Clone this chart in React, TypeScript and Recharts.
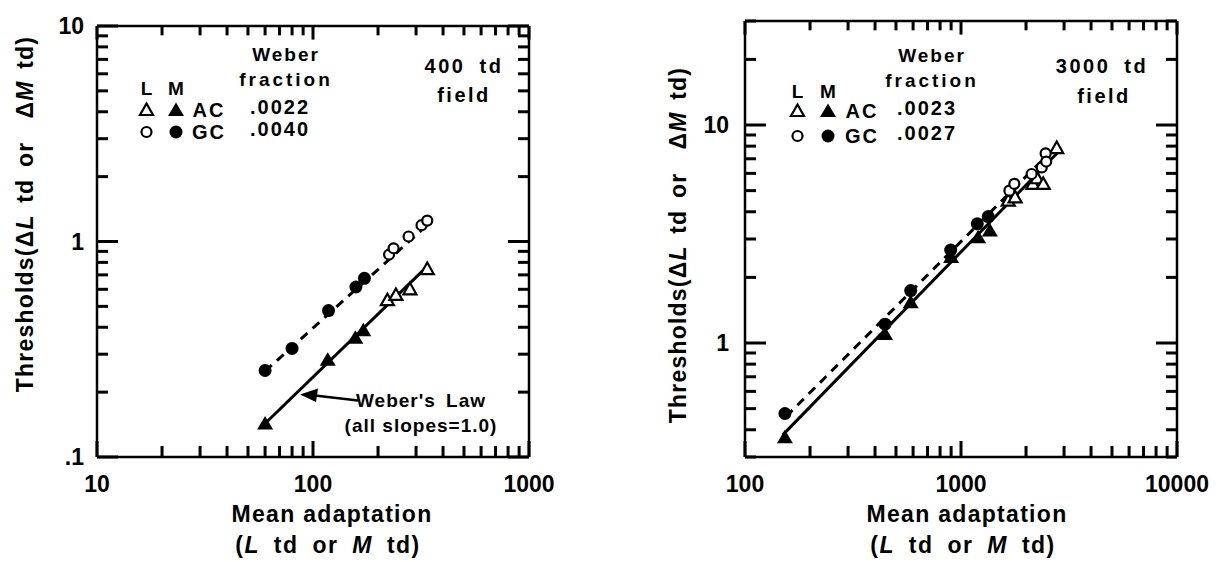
import React from 'react';
import { ScatterChart, Scatter, XAxis, YAxis, ReferenceLine } from 'recharts';

const FONT = '"Liberation Sans", Arial, Helvetica, sans-serif';

// ---------- Left panel: 400 td field ----------
const leftXTicks = [10, 20, 30, 40, 50, 60, 70, 80, 90, 100, 200, 300, 400, 500, 600, 700, 800, 900, 1000];
const leftYTicks = [0.1, 0.2, 0.3, 0.4, 0.5, 0.6, 0.7, 0.8, 0.9, 1, 2, 3, 4, 5, 6, 7, 8, 9, 10];
const leftXMajor = [10, 100, 1000];
const leftXLabels = ['10', '100', '1000'];
const leftYMajor = [0.1, 1, 10];
const leftYLabels = ['.1', '1', '10'];

const leftGcMX = [60, 80, 118, 158, 173];
const leftGcMY = [0.252, 0.319, 0.478, 0.615, 0.675];
const leftGcLX = [225, 236, 277, 318, 338];
const leftGcLY = [0.87, 0.93, 1.055, 1.19, 1.25];
const leftAcMX = [60, 117, 157, 171];
const leftAcMY = [0.143, 0.283, 0.358, 0.387];
const leftAcLX = [221, 242, 281, 338];
const leftAcLY = [0.534, 0.565, 0.6, 0.745];
const leftGcFitX = [60, 350];
const leftGcFitY = [0.25, 1.23];
const leftAcFitX = [60, 338];
const leftAcFitY = [0.143, 0.767];

// ---------- Right panel: 3000 td field ----------
const rightXTicks = [100, 200, 300, 400, 500, 600, 700, 800, 900, 1000, 2000, 3000, 4000, 5000, 6000, 7000, 8000, 9000, 10000];
const rightYTicks = [0.3, 0.4, 0.5, 0.6, 0.7, 0.8, 0.9, 1, 2, 3, 4, 5, 6, 7, 8, 9, 10, 20, 30];
const rightXMajor = [100, 1000, 10000];
const rightXLabels = ['100', '1000', '10000'];
const rightYMajor = [1, 10];
const rightYLabels = ['1', '10'];

const rightGcMX = [153, 445, 585, 896, 1190, 1337];
const rightGcMY = [0.475, 1.22, 1.74, 2.67, 3.52, 3.8];
const rightGcLX = [1675, 1766, 2123, 2365, 2465, 2480];
const rightGcLY = [5.0, 5.37, 5.96, 6.39, 7.41, 6.8];
const rightAcMX = [153, 445, 585, 900, 1200, 1361];
const rightAcMY = [0.37, 1.1, 1.54, 2.48, 3.06, 3.28];
const rightAcLX = [1655, 1780, 2150, 2250, 2404, 2774];
const rightAcLY = [4.5, 4.66, 5.37, 5.7, 5.37, 7.84];
const rightGcFitX = [155, 2520];
const rightGcFitY = [0.46, 7.3];
const rightAcFitX = [150, 2850];
const rightAcFitY = [0.38, 7.6];

const pts = (xs: number[], ys: number[]) => xs.map((x, i) => ({ x, y: ys[i] }));

// ---------- marks ----------
const FilledCircle = (p: any) => <circle cx={p.cx} cy={p.cy} r={6.5} fill="#000" />;
const OpenCircle = (p: any) => <circle cx={p.cx} cy={p.cy} r={5} fill="#fff" stroke="#000" strokeWidth={2.2} />;
const FilledTri = (p: any) => (
  <polygon points={`${p.cx},${p.cy - 7.5} ${p.cx - 8},${p.cy + 6} ${p.cx + 8},${p.cy + 6}`} fill="#000" />
);
const OpenTri = (p: any) => (
  <polygon
    points={`${p.cx},${p.cy - 6.5} ${p.cx - 6.5},${p.cy + 5} ${p.cx + 6.5},${p.cy + 5}`}
    fill="#fff"
    stroke="#000"
    strokeWidth={2.2}
  />
);
const NoShape = () => <g />;

// ---------- tick labels ----------
const labelStyle = { fontSize: 23, fontWeight: 'bold' as const, fontFamily: FONT };

function xLabel(majors: number[], labels: string[]) {
  return (props: any) => {
    const { x, y, payload } = props;
    const i = majors.indexOf(payload.value);
    if (i < 0) return <g />;
    return (
      <text x={x} y={y + 35} textAnchor="middle" {...labelStyle}>
        {labels[i]}
      </text>
    );
  };
}

function yLabel(majors: number[], labels: string[], gap: number) {
  return (props: any) => {
    const { x, y, payload } = props;
    const i = majors.indexOf(payload.value);
    if (i < 0) return <g />;
    return (
      <text x={x - gap} y={y + 8} textAnchor="end" {...labelStyle}>
        {labels[i]}
      </text>
    );
  };
}

// inward tick marks on both opposite sides of the plot, drawn from reference lines
function xTickShape(len: number, color: string) {
  return (sp: any) => {
    const yb = Math.max(sp.y1, sp.y2);
    const yt = Math.min(sp.y1, sp.y2);
    const x = sp.x1;
    return (
      <g>
        <line x1={x} x2={x} y1={yb} y2={yb - len} stroke={color} strokeWidth={3} />
        <line x1={x} x2={x} y1={yt} y2={yt + len * 0.85} stroke={color} strokeWidth={3} />
      </g>
    );
  };
}
function yTickShape(len: number, color: string) {
  return (sp: any) => {
    const xl = Math.min(sp.x1, sp.x2);
    const xr = Math.max(sp.x1, sp.x2);
    const y = sp.y1;
    return (
      <g>
        <line x1={xl} x2={xl + len} y1={y} y2={y} stroke={color} strokeWidth={3} />
        <line x1={xr} x2={xr - len} y1={y} y2={y} stroke={color} strokeWidth={3} />
      </g>
    );
  };
}

const axisLine = { stroke: '#000', strokeWidth: 2.5 };

type PanelProps = {
  width: number;
  topH: number;
  leftW: number;
  rightW: number;
  xDomain: [number, number];
  yDomain: [number, number];
  xTicks: number[];
  yTicks: number[];
  xMajor: number[];
  xLabels: string[];
  yMajor: number[];
  yLabels: string[];
  yGap: number;
  tickColor: string;
  gcM: { x: number; y: number }[];
  gcL: { x: number; y: number }[];
  acM: { x: number; y: number }[];
  acL: { x: number; y: number }[];
  gcFit: { x: number; y: number }[];
  acFit: { x: number; y: number }[];
};

function Panel(p: PanelProps) {
  return (
    <ScatterChart width={p.width} height={562} margin={{ top: 0, right: 0, bottom: 0, left: 0 }}>
      <XAxis
        xAxisId="b"
        orientation="bottom"
        type="number"
        dataKey="x"
        scale="log"
        domain={p.xDomain}
        allowDataOverflow
        ticks={p.xMajor}
        interval={0}
        height={105}
        tickSize={0}
        tickMargin={0}
        tickLine={false}
        axisLine={axisLine}
        tick={xLabel(p.xMajor, p.xLabels)}
      />
      <XAxis
        xAxisId="t"
        orientation="top"
        type="number"
        dataKey="x"
        scale="log"
        domain={p.xDomain}
        allowDataOverflow
        height={p.topH}
        tickLine={false}
        axisLine={axisLine}
        tick={false}
      />
      <YAxis
        yAxisId="l"
        orientation="left"
        type="number"
        dataKey="y"
        scale="log"
        domain={p.yDomain}
        allowDataOverflow
        ticks={p.yMajor}
        interval={0}
        width={p.leftW}
        tickSize={0}
        tickMargin={0}
        tickLine={false}
        axisLine={axisLine}
        tick={yLabel(p.yMajor, p.yLabels, p.yGap)}
      />
      <YAxis
        yAxisId="r"
        orientation="right"
        type="number"
        dataKey="y"
        scale="log"
        domain={p.yDomain}
        allowDataOverflow
        width={p.rightW}
        tickLine={false}
        axisLine={axisLine}
        tick={false}
      />
      {p.xTicks.map((v) => (
        <ReferenceLine
          key={'xt' + v}
          xAxisId="b"
          yAxisId="l"
          x={v}
          stroke="#000"
          shape={xTickShape(p.xMajor.indexOf(v) >= 0 ? 16 : 11, p.tickColor)}
        />
      ))}
      {p.yTicks.map((v) => (
        <ReferenceLine
          key={'yt' + v}
          xAxisId="b"
          yAxisId="l"
          y={v}
          stroke="#000"
          shape={yTickShape(p.yMajor.indexOf(v) >= 0 ? 21 : 11, p.tickColor)}
        />
      ))}
      <Scatter xAxisId="t" yAxisId="r" data={p.acFit} shape={NoShape} isAnimationActive={false} />
      <Scatter
        xAxisId="b"
        yAxisId="l"
        data={p.gcFit}
        shape={NoShape}
        line={{ stroke: '#000', strokeWidth: 3, strokeDasharray: '9 7' }}
        isAnimationActive={false}
      />
      <Scatter
        xAxisId="b"
        yAxisId="l"
        data={p.acFit}
        shape={NoShape}
        line={{ stroke: '#000', strokeWidth: 3 }}
        isAnimationActive={false}
      />
      <Scatter xAxisId="b" yAxisId="l" data={p.acM} shape={FilledTri} isAnimationActive={false} />
      <Scatter xAxisId="b" yAxisId="l" data={p.acL} shape={OpenTri} isAnimationActive={false} />
      <Scatter xAxisId="b" yAxisId="l" data={p.gcM} shape={FilledCircle} isAnimationActive={false} />
      <Scatter xAxisId="b" yAxisId="l" data={p.gcL} shape={OpenCircle} isAnimationActive={false} />
    </ScatterChart>
  );
}

// ---------- overlay text ----------
const T = ({ x, y, size = 20, ls = 2, ws = 0, anchor = 'middle', children }: any) => (
  <text
    x={x}
    y={y}
    fontSize={size}
    fontWeight="bold"
    fontFamily={FONT}
    letterSpacing={ls}
    wordSpacing={ws}
    textAnchor={anchor}
    dominantBaseline="central"
    style={{ whiteSpace: 'pre' }}
  >
    {children}
  </text>
);

function YTitle({ x, y }: { x: number; y: number }) {
  return (
    <text
      x={x}
      y={y}
      transform={`rotate(-90 ${x} ${y})`}
      fontSize={23}
      fontWeight="bold"
      fontFamily={FONT}
      letterSpacing={1.2}
      wordSpacing={4}
      textAnchor="middle"
      dominantBaseline="central"
      style={{ whiteSpace: 'pre' }}
    >
      Thresholds(Δ<tspan fontStyle="italic">L</tspan> td or  Δ<tspan fontStyle="italic">M</tspan> td)
    </text>
  );
}

function XTitle({ x, y }: { x: number; y: number }) {
  return (
    <g>
      <T x={x} y={y} size={23} ls={1.3}>Mean adaptation</T>
      <text
        x={x - 4}
        y={y + 31}
        fontSize={23}
        fontWeight="bold"
        fontFamily={FONT}
        letterSpacing={1.5}
        wordSpacing={6}
        textAnchor="middle"
        dominantBaseline="central"
        style={{ whiteSpace: 'pre' }}
      >
        (<tspan fontStyle="italic">L</tspan> td or <tspan fontStyle="italic">M</tspan> td)
      </text>
    </g>
  );
}

function Legend({ lx, mx, tx, fx, wx, rows, frac, weberY }: any) {
  return (
    <g>
      <T x={wx} y={weberY} size={19} ls={2}>Weber</T>
      <T x={wx} y={weberY + 25} size={19} ls={3}>fraction</T>
      <T x={lx} y={rows[0]} size={19} ls={0}>L</T>
      <T x={mx} y={rows[0]} size={19} ls={0}>M</T>
      <OpenTri cx={lx} cy={rows[1]} />
      <FilledTri cx={mx} cy={rows[1]} />
      <T x={tx} y={rows[1]} size={20} ls={2}>AC</T>
      <T x={fx} y={rows[1] - 3} size={20} ls={2}>{frac[0]}</T>
      <OpenCircle cx={lx} cy={rows[2]} />
      <FilledCircle cx={mx} cy={rows[2]} />
      <T x={tx} y={rows[2]} size={20} ls={2}>GC</T>
      <T x={fx} y={rows[2] - 3} size={20} ls={2}>{frac[1]}</T>
    </g>
  );
}

export default function App() {
  return (
    <div
      style={{
        position: 'absolute',
        left: 0,
        top: 0,
        width: 1227,
        height: 562,
        background: '#fff',
        overflow: 'hidden',
      }}
    >
      <div style={{ position: 'absolute', left: 0, top: 0 }}>
        <Panel
          width={613}
          topH={26}
          leftW={97}
          rightW={84}
          xDomain={[10, 1000]}
          yDomain={[0.1, 10]}
          xTicks={leftXTicks}
          yTicks={leftYTicks}
          xMajor={leftXMajor}
          xLabels={leftXLabels}
          yMajor={leftYMajor}
          yLabels={leftYLabels}
          yGap={13}
          tickColor="#000"
          gcM={pts(leftGcMX, leftGcMY)}
          gcL={pts(leftGcLX, leftGcLY)}
          acM={pts(leftAcMX, leftAcMY)}
          acL={pts(leftAcLX, leftAcLY)}
          gcFit={pts(leftGcFitX, leftGcFitY)}
          acFit={pts(leftAcFitX, leftAcFitY)}
        />
      </div>
      <div style={{ position: 'absolute', left: 613, top: 0 }}>
        <Panel
          width={614}
          topH={21}
          leftW={132}
          rightW={50}
          xDomain={[100, 10000]}
          yDomain={[0.3, 30]}
          xTicks={rightXTicks}
          yTicks={rightYTicks}
          xMajor={rightXMajor}
          xLabels={rightXLabels}
          yMajor={rightYMajor}
          yLabels={rightYLabels}
          yGap={16}
          tickColor="#000"
          gcM={pts(rightGcMX, rightGcMY)}
          gcL={pts(rightGcLX, rightGcLY)}
          acM={pts(rightAcMX, rightAcMY)}
          acL={pts(rightAcLX, rightAcLY)}
          gcFit={pts(rightGcFitX, rightGcFitY)}
          acFit={pts(rightAcFitX, rightAcFitY)}
        />
      </div>
      <svg
        width={1227}
        height={562}
        style={{ position: 'absolute', left: 0, top: 0, pointerEvents: 'none' }}
      >
        {/* Left panel texts */}
        <YTitle x={25} y={214} />
        <XTitle x={332} y={514} />
        <Legend lx={146.5} mx={176} tx={209} fx={280} wx={286} rows={[88, 110, 132]} frac={['.0022', '.0040']} weberY={54} />
        <T x={464} y={66} size={20} ls={2.5} ws={6}>400 td</T>
        <T x={464} y={95} size={20} ls={2.5}>field</T>
        <polygon points="300,394.6 318,388.5 316,402" fill="#000" />
        <line x1={315} y1={395.5} x2={358} y2={400.5} stroke="#000" strokeWidth={2.5} />
        <T x={421} y={400} size={19} ls={1} ws={4}>Weber's Law</T>
        <T x={421} y={425} size={19} ls={1}>(all slopes=1.0)</T>

        {/* Right panel texts */}
        <YTitle x={678} y={245} />
        <XTitle x={967} y={514} />
        <Legend lx={797.5} mx={828} tx={862} fx={927} wx={932} rows={[91, 111, 136]} frac={['.0023', '.0027']} weberY={55.5} />
        <T x={1102} y={66} size={20} ls={2.5} ws={6}>3000 td</T>
        <T x={1104} y={96} size={20} ls={2.5}>field</T>
      </svg>
    </div>
  );
}
